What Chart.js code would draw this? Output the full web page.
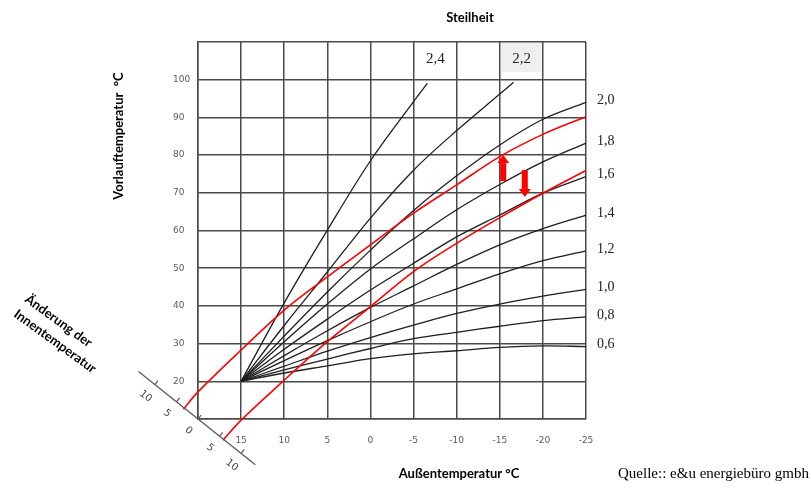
<!DOCTYPE html>
<html>
<head>
<meta charset="utf-8">
<script src="https://cdn.jsdelivr.net/npm/chart.js@4.4.1/dist/chart.umd.min.js"></script>
<style>
  html, body { margin: 0; padding: 0; background: #fff; }
  #chart { display: block; }
</style>
</head>
<body>
<canvas id="chart" width="811" height="489"></canvas>
<script>
// Außentemperatur (x axis, °C)
const outsideTemps = [15, 10, 5, 0, -5, -10, -15, -20, -25];
const xTicks = [20, 15, 10, 5, 0, -5, -10, -15, -20, -25];
const yTicks = [10, 20, 30, 40, 50, 60, 70, 80, 90, 100, 110];

// Vorlauftemperatur per Steilheit
const curve06 = [20, 22.2, 24.1, 26.0, 27.3, 28.1, 29.0, 29.4, 29.2];
const curve08 = [20, 23.0, 25.9, 28.7, 31.3, 33.0, 34.6, 36.1, 37.1];
const curve10 = [20, 24.0, 28.0, 31.6, 34.9, 38.0, 40.5, 42.6, 44.4];
const curve12 = [20, 25.5, 30.8, 35.8, 40.5, 44.5, 48.5, 52.0, 54.6];
const curve14 = [20, 26.8, 33.4, 39.6, 45.3, 51.0, 56.2, 60.5, 64.1];
const curve16 = [20, 28.5, 36.5, 44.2, 51.3, 58.3, 64.1, 69.9, 74.3];
const curve18 = [20, 30.5, 40.5, 49.8, 57.8, 65.5, 72.2, 78.2, 83.2];
const curve20 = [20, 32.0, 43.7, 54.8, 65.3, 74.5, 82.7, 89.5, 94.0];
const temps22 = [15, 10, 5, 0, -5, -10, -15, -16.6];
const curve22 = [20, 34.8, 49.0, 63.3, 76.0, 86.5, 96.2, 99.3];
const temps24 = [15, 10, 5, 0, -5, -6.6];
const curve24 = [20, 40.8, 60.1, 78.5, 94.2, 99.0];

const rightLabels = ["0,6", "0,8", "1,0", "1,2", "1,4", "1,6", "1,8", "2,0"];
const topLabels = ["2,2", "2,4"];

// shifted curves (red), starting on the Innentemperatur axis
const redUpperTemps = [21.7, 20, 15, 10, 5, 0, -5, -10, -15, -20, -25];
const redUpper = [12.6, 17.2, 28.3, 38.9, 47.7, 56.2, 64.6, 72.1, 79.6, 85.5, 90.2];
const redLowerTemps = [17.1, 15, 10, 5, 0, -5, -10, -15, -20, -25];
const redLower = [4.4, 9.7, 20.3, 30.5, 39.8, 49.1, 56.6, 63.4, 69.9, 75.9];

// arrows: [Außentemperatur, from, to]
const arrowUp = [-15.4, 73.1, 80.0];
const arrowDown = [-17.9, 76.0, 68.9];

// Änderung der Innentemperatur (diagonal axis through the corner 20 °C / 10 °C)
const innenTicks = [-10, -5, 0, 5, 10];
const innenRange = [-13.8, 13.3];
const innenOrigin = [20, 10];
const innenStep = [-0.5, -0.912]; // data units per K

const gridColor = "#4a4a4a";
const tickColor = "#5a5a5a";
const tickFont = { family: "DejaVu Sans", size: 9 };

function pts(xs, ys) {
  return xs.map((t, i) => ({ x: t, y: ys[i] }));
}

const black = "#1e1e1e";
const red = "#ff0000";

const datasets = [
  { data: pts(redUpperTemps, redUpper), borderColor: red, borderWidth: 1.6 },
  { data: pts(redLowerTemps, redLower), borderColor: red, borderWidth: 1.6 },
  { data: pts(outsideTemps, curve06), borderColor: black },
  { data: pts(outsideTemps, curve08), borderColor: black },
  { data: pts(outsideTemps, curve10), borderColor: black },
  { data: pts(outsideTemps, curve12), borderColor: black },
  { data: pts(outsideTemps, curve14), borderColor: black },
  { data: pts(outsideTemps, curve16), borderColor: black },
  { data: pts(outsideTemps, curve18), borderColor: black },
  { data: pts(outsideTemps, curve20), borderColor: black },
  { data: pts(temps22, curve22), borderColor: black },
  { data: pts(temps24, curve24), borderColor: black },
];

function drawArrow(ctx, px, py0, py1) {
  const dir = py1 > py0 ? 1 : -1;
  const head = 8;
  ctx.fillStyle = red;
  ctx.fillRect(px - 3, Math.min(py0, py1 - dir * head), 6, Math.abs(py1 - dir * head - py0));
  ctx.beginPath();
  ctx.moveTo(px, py1);
  ctx.lineTo(px - 6, py1 - dir * head);
  ctx.lineTo(px + 6, py1 - dir * head);
  ctx.closePath();
  ctx.fill();
}

const overlay = {
  id: "overlay",
  beforeDatasetsDraw(chart) {
    const { ctx, chartArea, scales } = chart;
    // grey box behind the "2,2" label
    const cx = scales.x.getPixelForValue(temps22[temps22.length - 1]) + 8;
    ctx.save();
    ctx.fillStyle = "#efefef";
    ctx.fillRect(cx - 20, chartArea.top + 1, 40, 29);
    ctx.restore();
  },
  afterDatasetsDraw(chart) {
    const { ctx, scales } = chart;
    const x = scales.x, y = scales.y;
    ctx.save();
    drawArrow(ctx, x.getPixelForValue(arrowUp[0]), y.getPixelForValue(arrowUp[1]), y.getPixelForValue(arrowUp[2]));
    drawArrow(ctx, x.getPixelForValue(arrowDown[0]), y.getPixelForValue(arrowDown[1]), y.getPixelForValue(arrowDown[2]));
    ctx.restore();
  },
  afterDraw(chart) {
    const { ctx, chartArea, scales } = chart;
    const x = scales.x, y = scales.y;
    ctx.save();

    // Steilheit labels on the right
    const rightCurves = [curve06, curve08, curve10, curve12, curve14, curve16, curve18, curve20];
    ctx.fillStyle = "#222";
    ctx.font = "14px 'Liberation Serif'";
    ctx.textAlign = "left";
    ctx.textBaseline = "middle";
    rightCurves.forEach((c, i) => {
      ctx.fillText(rightLabels[i], chartArea.right + 11, y.getPixelForValue(c[c.length - 1]) - 2);
    });

    // Steilheit labels on top
    ctx.font = "15px 'Liberation Serif'";
    ctx.textAlign = "center";
    [temps22, temps24].forEach((t, i) => {
      ctx.fillText(topLabels[i], x.getPixelForValue(t[t.length - 1]) + 8, chartArea.top + 17);
    });

    // titles
    ctx.fillStyle = "#000";
    ctx.font = "bold 13px Lato";
    ctx.fillText("Steilheit", 470, 18);
    ctx.fillText("Außentemperatur °C", 459, 474);
    ctx.save();
    ctx.translate(119, 136);
    ctx.rotate(-Math.PI / 2);
    ctx.fillText("Vorlauftemperatur  °C", 0, 0);
    ctx.restore();

    ctx.font = "15px 'Liberation Serif'";
    ctx.textAlign = "left";
    ctx.fillText("Quelle:: e&u energiebüro gmbh", 618, 474);

    // diagonal Innentemperatur axis
    const pix = k => [
      x.getPixelForValue(innenOrigin[0] + innenStep[0] * k),
      y.getPixelForValue(innenOrigin[1] + innenStep[1] * k),
    ];
    const p0 = pix(0), p1 = pix(1);
    let ux = p1[0] - p0[0], uy = p1[1] - p0[1];
    const len = Math.hypot(ux, uy);
    ux /= len; uy /= len;
    const nx = uy, ny = -ux; // towards upper right
    const a = pix(innenRange[0]), b = pix(innenRange[1]);
    ctx.strokeStyle = "#555";
    ctx.lineWidth = 1.2;
    ctx.beginPath();
    ctx.moveTo(a[0], a[1]);
    ctx.lineTo(b[0], b[1]);
    innenTicks.forEach(k => {
      const p = pix(k);
      ctx.moveTo(p[0], p[1]);
      ctx.lineTo(p[0] + nx * 5, p[1] + ny * 5);
    });
    ctx.stroke();

    ctx.fillStyle = "#444";
    ctx.font = "10px 'DejaVu Sans'";
    ctx.textAlign = "center";
    ctx.textBaseline = "middle";
    const ang = Math.atan2(uy, ux);
    innenTicks.forEach(k => {
      const p = pix(k);
      ctx.save();
      ctx.translate(p[0] - nx * 15, p[1] - ny * 15);
      ctx.rotate(ang);
      ctx.fillText(String(Math.abs(k)), 0, 0);
      ctx.restore();
    });

    ctx.fillStyle = "#000";
    ctx.font = "bold 13px Lato";
    ctx.textAlign = "left";
    ctx.textBaseline = "alphabetic";
    ctx.save();
    ctx.translate(24, 301);
    ctx.rotate(36 * Math.PI / 180);
    ctx.fillText("Änderung der", 0, 0);
    ctx.fillText("Innentemperatur", 0, 18.6);
    ctx.restore();

    ctx.restore();
  },
};

new Chart(document.getElementById("chart"), {
  type: "line",
  data: { datasets },
  options: {
    responsive: false,
    animation: false,
    devicePixelRatio: 1,
    layout: { padding: { left: 173, right: 225, top: 42, bottom: 40 } },
    plugins: { legend: { display: false }, tooltip: { enabled: false } },
    datasets: { line: { clip: false } },
    elements: {
      point: { radius: 0 },
      line: { borderWidth: 1.3, tension: 0.35, fill: false },
    },
    scales: {
      x: {
        type: "linear",
        reverse: true,
        min: -25,
        max: 20,
        afterBuildTicks: s => { s.ticks = xTicks.map(v => ({ value: v })); },
        afterFit: s => { s.height = 30; },
        grid: { color: gridColor, lineWidth: 1.5, drawTicks: false },
        border: { color: gridColor, width: 1.5 },
        ticks: {
          padding: 16,
          autoSkip: false,
          maxRotation: 0,
          font: tickFont,
          color: tickColor,
          callback: v => (v === 20 ? "" : String(v)),
        },
      },
      y: {
        type: "linear",
        min: 10,
        max: 110,
        afterBuildTicks: s => { s.ticks = yTicks.map(v => ({ value: v })); },
        afterFit: s => { s.width = 25; },
        grid: { color: gridColor, lineWidth: 1.5, drawTicks: false },
        border: { color: gridColor, width: 1.5 },
        ticks: {
          crossAlign: "far",
          padding: 8,
          autoSkip: false,
          font: tickFont,
          color: tickColor,
          callback: v => (v === 10 || v === 110 ? "" : String(v)),
        },
      },
    },
  },
  plugins: [overlay],
});
</script>
</body>
</html>
